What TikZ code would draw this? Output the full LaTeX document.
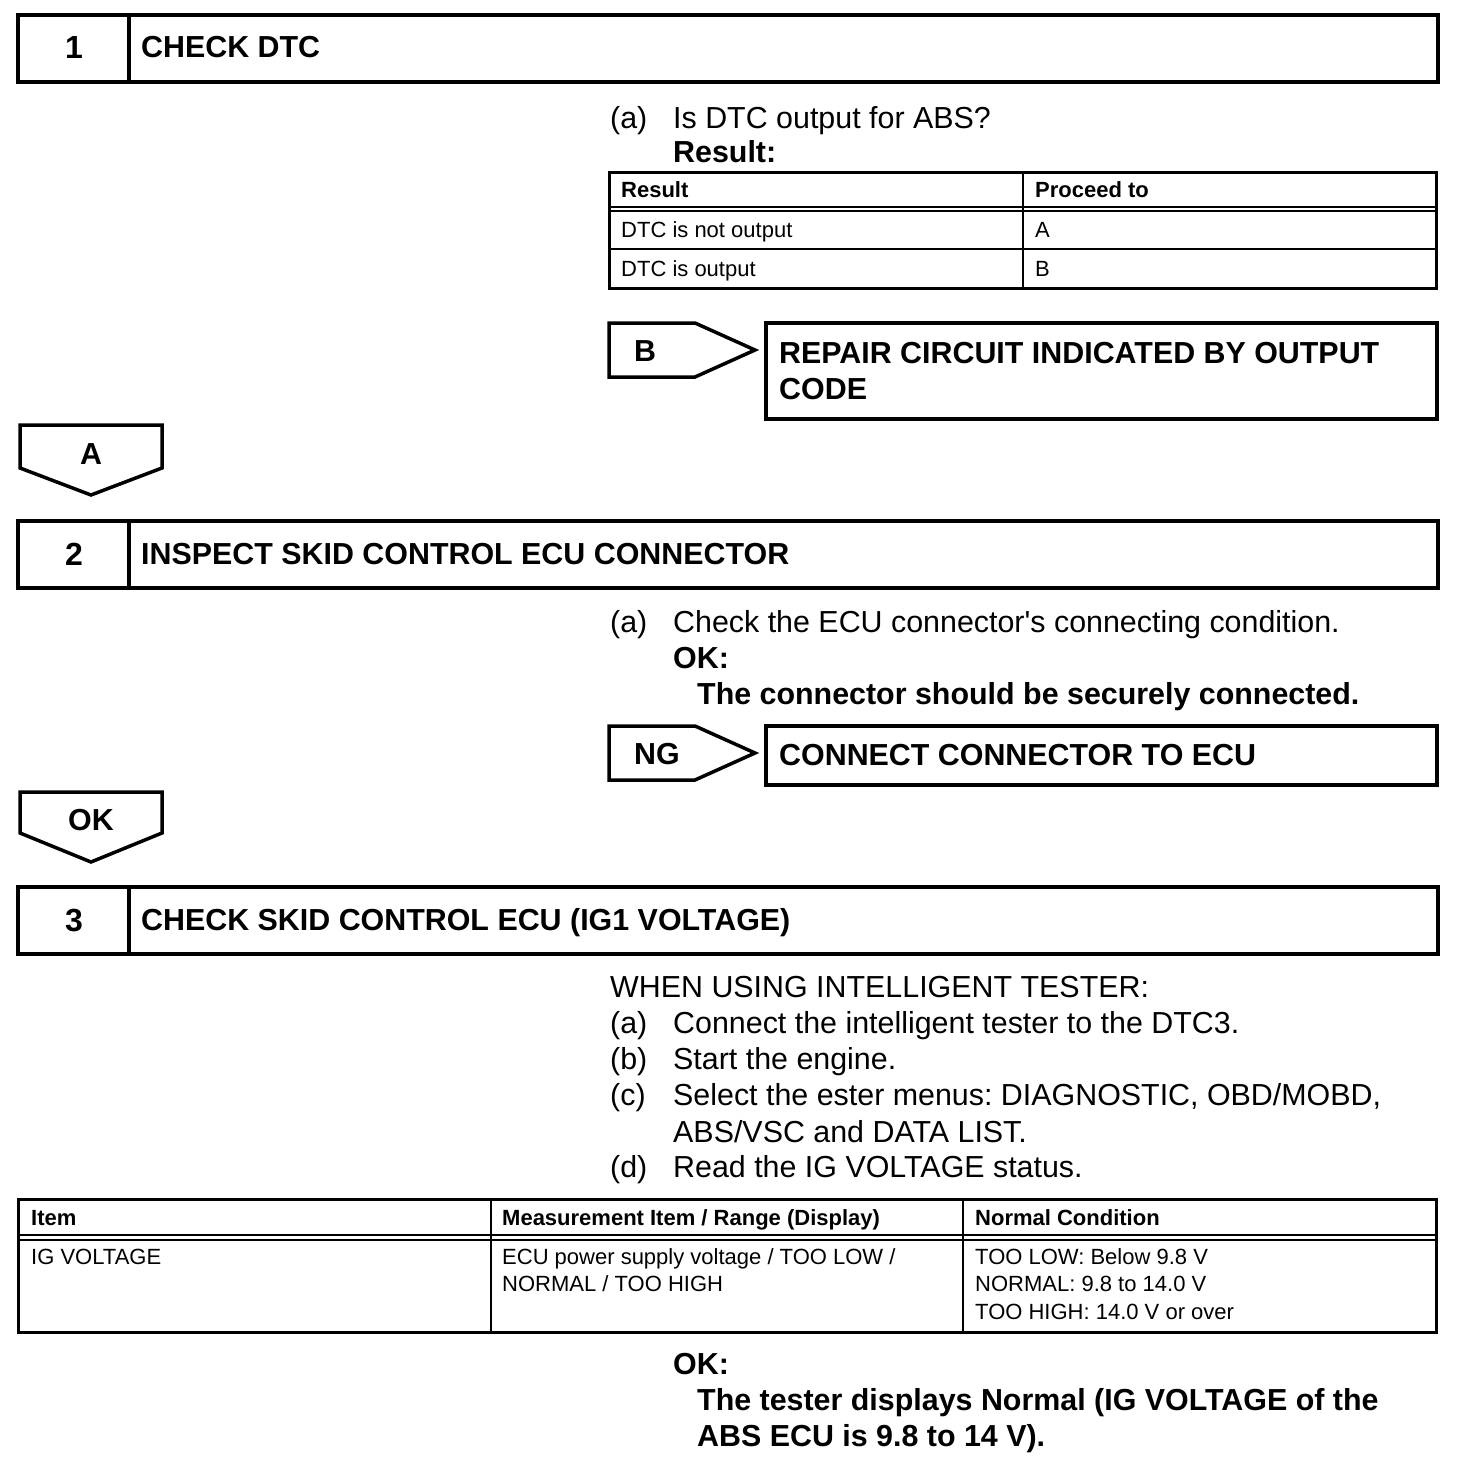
\documentclass[tikz,border=0pt]{standalone}
\usepackage{fontspec}
\setmainfont{Liberation Sans}
\newcommand{\pxfont}[1]{\fontsize{#1}{#1}\selectfont}
\frenchspacing

\begin{document}
\begin{tikzpicture}[x=1pt,y=-1pt,
  frame/.style={line width=4pt},
  tagline/.style={line width=3.5pt,line join=miter},
  outer/.style={line width=3pt},
  grid/.style={line width=2pt},
  dbl/.style={line width=1.5pt},
  body/.style={anchor=base west,inner sep=0,font=\pxfont{30.4}},
  bodyb/.style={body,font=\pxfont{30.4}\bfseries},
  cell/.style={anchor=base west,inner sep=0,font=\pxfont{22}},
  cellb/.style={cell,font=\pxfont{22}\bfseries}]
  \useasboundingbox (0,0) rectangle (1456,1464);

  % step headers
  \foreach \n/\y/\t in {1/15/CHECK DTC,
      2/521/INSPECT SKID CONTROL ECU CONNECTOR,
      3/887/{CHECK SKID CONTROL ECU (IG1 VOLTAGE)}}{
    \draw[frame] (18,\y) rectangle (1438,\y+67);
    \draw[frame] (129,\y) -- (129,\y+67);
    \node[bodyb,anchor=base,font=\pxfont{32}\bfseries] (num\n) at (74,\y+44) {\n};
    \node[bodyb] (title\n) at (141,\y+43) {\t};
  }

  % step 1
  \node[body] (a1lbl) at (610,128) {(a)};
  \node[body] (a1txt) at (673,128) {Is DTC output for ABS?};
  \node[bodyb] (res1) at (673,162) {Result:};
  \draw[outer] (609,172) rectangle (1436,288);
  \draw[grid] (1023,172) -- (1023,288);
  \draw[dbl] (609,207) -- (1436,207) (609,211) -- (1436,211);
  \draw[grid] (609,249) -- (1436,249);
  \node[cellb] (t1h1) at (621,197) {Result};
  \node[cellb] (t1h2) at (1035,197) {Proceed to};
  \node[cell] (t1r1) at (621,237) {DTC is not output};
  \node[cell] (t1r1b) at (1035,237) {A};
  \node[cell] (t1r2) at (621,276) {DTC is output};
  \node[cell] (t1r2b) at (1035,276) {B};

  \draw[tagline] (609,323) -- (695,323) -- (755,350) -- (695,377) -- (609,377) -- cycle;
  \node[bodyb] (tagB) at (634,361) {B};
  \draw[frame] (766,323) rectangle (1437,419);
  \node[bodyb] (repair1) at (779,363) {REPAIR CIRCUIT INDICATED BY OUTPUT};
  \node[bodyb] (repair2) at (779,399) {CODE};

  \draw[tagline] (20,425) -- (162,425) -- (162,468) -- (91,495) -- (20,468) -- cycle;
  \node[bodyb,anchor=base] (tagA) at (91,464) {A};

  % step 2
  \node[body] (a2lbl) at (610,632) {(a)};
  \node[body] (a2txt) at (673,632) {Check the ECU connector\textquotesingle s connecting condition.};
  \node[bodyb] (ok2) at (673,668) {OK:};
  \node[bodyb] (ok2txt) at (697,704) {The connector should be securely connected.};

  \draw[tagline] (609,726) -- (695,726) -- (755,753) -- (695,780) -- (609,780) -- cycle;
  \node[bodyb] (tagNG) at (634,764) {NG};
  \draw[frame] (766,726) rectangle (1437,785);
  \node[bodyb] (connect) at (779,765) {CONNECT CONNECTOR TO ECU};

  \draw[tagline] (20,792) -- (162,792) -- (162,833) -- (91,862) -- (20,833) -- cycle;
  \node[bodyb,anchor=base] (tagOK) at (91,830) {OK};

  % step 3
  \node[body] (when) at (610,997) {WHEN USING INTELLIGENT TESTER:};
  \node[body] (s3a) at (610,1033) {(a)};
  \node[body] (s3atxt) at (673,1033) {Connect the intelligent tester to the DTC3.};
  \node[body] (s3b) at (610,1069) {(b)};
  \node[body] (s3btxt) at (673,1069) {Start the engine.};
  \node[body] (s3c) at (610,1105) {(c)};
  \node[body] (s3ctxt) at (673,1105) {Select the ester menus: DIAGNOSTIC, OBD/MOBD,};
  \node[body] (s3ctxt2) at (673,1142) {ABS/VSC and DATA LIST.};
  \node[body] (s3d) at (610,1177) {(d)};
  \node[body] (s3dtxt) at (673,1177) {Read the IG VOLTAGE status.};

  \draw[outer] (18,1199) rectangle (1436,1332);
  \draw[grid] (491,1199) -- (491,1332) (963,1199) -- (963,1332);
  \draw[dbl] (18,1235) -- (1436,1235) (18,1240) -- (1436,1240);
  \node[cellb] (t3h1) at (31,1225) {Item};
  \node[cellb] (t3h2) at (502,1225) {Measurement Item / Range (Display)};
  \node[cellb] (t3h3) at (975,1225) {Normal Condition};
  \node[cell] (t3c1) at (31,1264) {IG VOLTAGE};
  \node[cell] (t3c2a) at (502,1264) {ECU power supply voltage / TOO LOW /};
  \node[cell] (t3c2b) at (502,1291) {NORMAL / TOO HIGH};
  \node[cell] (t3c3a) at (975,1264) {TOO LOW: Below 9.8 V};
  \node[cell] (t3c3b) at (975,1291) {NORMAL: 9.8 to 14.0 V};
  \node[cell] (t3c3c) at (975,1319) {TOO HIGH: 14.0 V or over};

  \node[bodyb] (ok3) at (673,1374) {OK:};
  \node[bodyb] (ok3txt) at (697,1410) {The tester displays Normal (IG VOLTAGE of the};
  \node[bodyb] (ok3txt2) at (697,1446) {ABS ECU is 9.8 to 14 V).};
\end{tikzpicture}
\end{document}
